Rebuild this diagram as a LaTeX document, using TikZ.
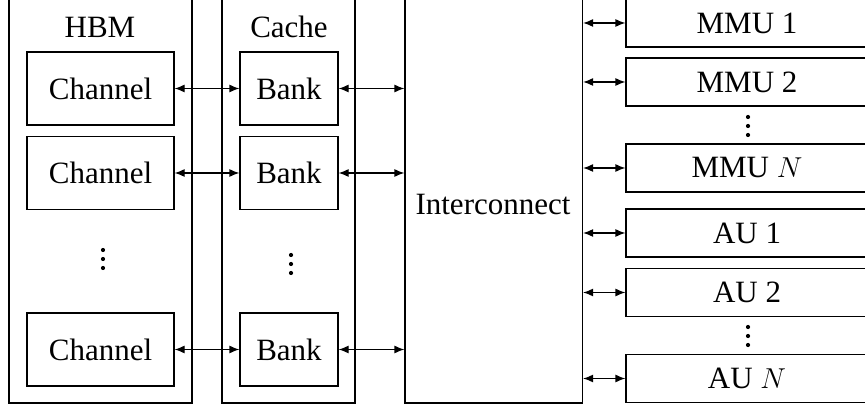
\documentclass[tikz,border=0pt]{standalone}
\usepackage{fontspec}
\setmainfont{Liberation Serif}
\usetikzlibrary{arrows.meta}

\tikzset{
    blk/.style = {draw, line width=0.6pt, inner sep=0pt},
    arr/.style = {{Latex[length=5pt,width=4pt]}-{Latex[length=5pt,width=4pt]}, line width=0.6pt}
}

% three vertical dots centred at (#1,#2)
\newcommand{\vdts}[2]{%
    \fill (#1,#2-9) circle (2.1);
    \fill (#1,#2) circle (2.1);
    \fill (#1,#2+9) circle (2.1);}

\begin{document}
\begin{tikzpicture}[x=0.5pt, y=-0.5pt, font=\fontsize{15.5}{18}\selectfont]
        %frame of the picture, in pixels
        \useasboundingbox (0,0) rectangle (865,410);
        \clip (0,0) rectangle (865,410);
        \def\hch{36.5pt}% height of channel and bank
        \def\hu{24pt}% height of unit boxes

        % outer boxes
        \node[blk, minimum width=91.5pt, minimum height=206.5pt] (hbm) at (100.5,196.5) {};
        \node[blk, minimum width=66.5pt, minimum height=206.5pt] (cache) at (288.5,196.5) {};
        \node[blk, minimum width=88.75pt, minimum height=206.5pt] (ic) at (493.75,196.5) {};
        \node (hbmlbl) at (100,27) {HBM};
        \node (cachelbl) at (289,27) {Cache};
        \node (iclbl) at (493,205) {Interconnect};

        % channels of the hbm
        \node[blk, minimum width=73.5pt, minimum height=\hch] (ch1) at (100.5,88.5) {Channel};
        \node[blk, minimum width=73.5pt, minimum height=\hch] (ch2) at (100.5,173) {Channel};
        \node[blk, minimum width=73.5pt, minimum height=\hch] (ch3) at (100.5,349.5) {Channel};
        \vdts{103}{259}

        % banks of the cache
        \node[blk, minimum width=49pt, minimum height=\hch] (bk1) at (289,88.5) {Bank};
        \node[blk, minimum width=49pt, minimum height=\hch] (bk2) at (289,173) {Bank};
        \node[blk, minimum width=49pt, minimum height=\hch] (bk3) at (289,349.5) {Bank};
        \vdts{291}{264}

        % mmus and aus
        \node[blk, minimum width=121pt, minimum height=\hu] (mmu1) at (747,23) {MMU 1};
        \node[blk, minimum width=121pt, minimum height=\hu] (mmu2) at (747,82) {MMU 2};
        \node[blk, minimum width=121pt, minimum height=\hu] (mmun) at (747,168) {MMU $N$};
        \vdts{748}{126}
        \node[blk, minimum width=121pt, minimum height=\hu] (au1) at (747,233) {AU 1};
        \node[blk, minimum width=121pt, minimum height=\hu] (au2) at (747,292.5) {AU 2};
        \node[blk, minimum width=121pt, minimum height=\hu] (aun) at (747,378.5) {AU $N$};
        \vdts{748}{336}

        %links channel - bank
        \draw[arr] (ch1.east) -- (bk1.west);
        \draw[arr] (ch2.east) -- (bk2.west);
        \draw[arr] (ch3.east) -- (bk3.west);

        %links bank - interconnect
        \draw[arr] (bk1.east) -- (ic.west |- bk1);
        \draw[arr] (bk2.east) -- (ic.west |- bk2);
        \draw[arr] (bk3.east) -- (ic.west |- bk3);

        %links interconnect - units
        \draw[arr] (ic.east |- mmu1) -- (mmu1.west);
        \draw[arr] (ic.east |- mmu2) -- (mmu2.west);
        \draw[arr] (ic.east |- mmun) -- (mmun.west);
        \draw[arr] (ic.east |- au1) -- (au1.west);
        \draw[arr] (ic.east |- au2) -- (au2.west);
        \draw[arr] (ic.east |- aun) -- (aun.west);
    \end{tikzpicture}
\end{document}
